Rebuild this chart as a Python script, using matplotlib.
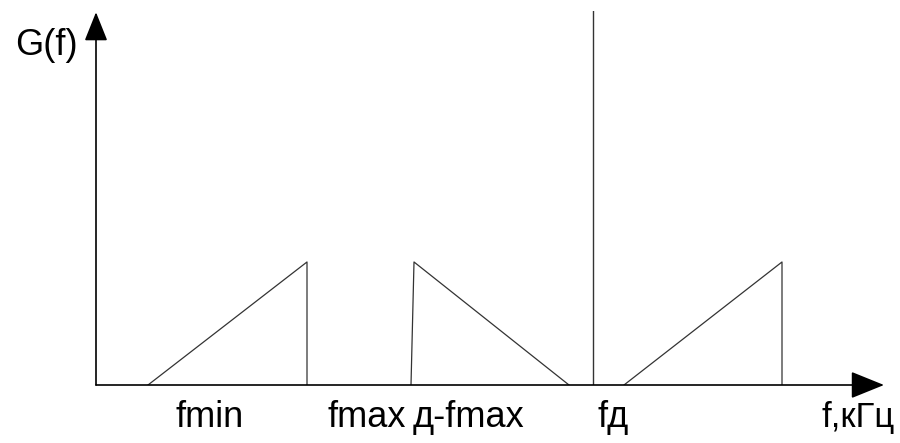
import matplotlib
matplotlib.use('Agg')
import matplotlib.pyplot as plt
from matplotlib import font_manager as fm

# widmo sygnalu (jednostki umowne)
tri1_f = [52, 211, 211]
tri2_f = [315, 318, 473]
tri3_f = [528, 686, 686]
tri_G = [0, 1, 0]
f_d = 497
f_end = 788
G_top = 3.04

labels = ['fmin', 'fmax', 'д-fmax', 'fд']
label_x = [80, 232, 317, 502]
os_x = 'f,кГц'
os_x_prawo = 799

# czcionka
names = {f.name for f in fm.fontManager.ttflist}
if 'Liberation Sans Narrow' in names:
    fam, fs = 'Liberation Sans Narrow', 31
else:
    fam, fs = 'Liberation Sans', 26

fig = plt.figure(figsize=(9, 4.43), dpi=100)
ax = fig.add_axes([96/900, 58/443, 788/900, 374/443])
ax.set_xlim(0, f_end)
ax.set_ylim(0, G_top)
ax.axis('off')

col = '#333333'
ax.plot(tri1_f, tri_G, color=col, lw=0.9)
ax.plot(tri2_f, tri_G, color=col, lw=0.9)
ax.plot(tri3_f, tri_G, color=col, lw=0.9)
ax.plot([f_d, f_d], [0, G_top], color=col, lw=1.0)

# osie ze strzalkami
ax.annotate('', xy=(f_end, 0), xytext=(0, 0),
            arrowprops=dict(arrowstyle='-|>,head_length=2.1,head_width=0.85',
                            color='black', lw=1.2, shrinkA=0, shrinkB=0),
            annotation_clip=False)
ax.annotate('', xy=(0, G_top - 0.01), xytext=(0, 0),
            arrowprops=dict(arrowstyle='-|>,head_length=1.8,head_width=0.72',
                            color='black', lw=1.2, shrinkA=0, shrinkB=0),
            annotation_clip=False)

for lab, x in zip(labels, label_x):
    ax.annotate(lab, xy=(x, 0), xytext=(0, -30.2), textcoords='offset points',
                ha='left', va='baseline', fontsize=fs, family=fam,
                annotation_clip=False)

ax.annotate(os_x, xy=(os_x_prawo, 0), xytext=(0, -30.2), textcoords='offset points',
            ha='right', va='baseline', fontsize=fs - 1, family=fam,
            annotation_clip=False)

ax.text(-81, 2.68, 'G(f)', ha='left', va='baseline', fontsize=fs, family=fam,
        clip_on=False)

fig.savefig('out.png', dpi=100)
